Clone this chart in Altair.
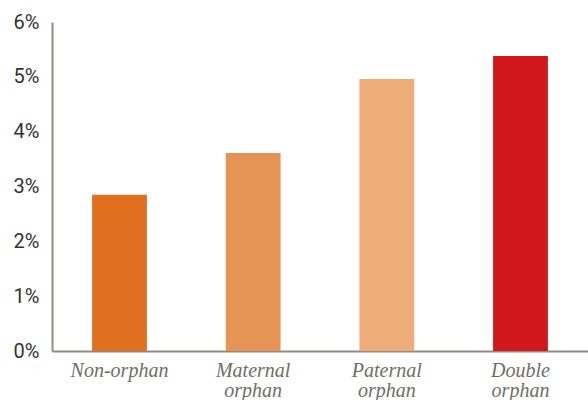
import altair as alt
import pandas as pd

categories = ["Non-orphan", "Maternal orphan", "Paternal orphan", "Double orphan"]
values = [0.0285, 0.0361, 0.0496, 0.0538]
colors = ["#e07020", "#e69455", "#edac78", "#cf171c"]

df = pd.DataFrame({"cat": categories, "val": values})

chart = alt.Chart(df).mark_bar().encode(
    x=alt.X("cat:N", sort=categories, title=None,
            scale=alt.Scale(paddingInner=0.59, paddingOuter=0.3),
            axis=alt.Axis(labelAngle=0, ticks=False, labelPadding=9,
                          labelFont="'Liberation Serif', 'Times New Roman', serif", labelFontStyle="italic",
                          labelFontSize=20, labelColor="#6e6e66", labelLineHeight=20,
                          labelExpr="split(datum.label, ' ')",
                          domainColor="#8c8c84", domainWidth=2)),
    y=alt.Y("val:Q", title=None,
            scale=alt.Scale(domain=[0, 0.06]),
            axis=alt.Axis(format=".0%", values=[0, 0.01, 0.02, 0.03, 0.04, 0.05, 0.06],
                          ticks=False, grid=False, labelPadding=13,
                          labelFont="Roboto", labelFontSize=20,
                          labelColor="#333333", domainColor="#8c8c84", domainWidth=2)),
    color=alt.Color("cat:N", sort=categories,
                    scale=alt.Scale(domain=categories, range=colors), legend=None),
).properties(
    width=536, height=329,
    autosize=alt.AutoSizeParams(type="none"),
    padding={"left": 52, "top": 22, "right": 0, "bottom": 49},
).configure_view(stroke=None)

chart.save("out.html", embed_options={"renderer": "svg", "actions": False})
